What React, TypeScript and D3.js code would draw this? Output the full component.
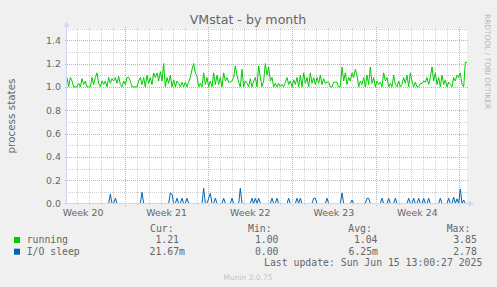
import React from "react";
import * as d3 from "d3";

// ---------- data ----------
const TITLE = "VMstat - by month";
const Y_LABEL = "process states";
const END_TIME = Date.UTC(2025, 5, 15, 15, 41);
const SPAN_DAYS = 33.5;
const START_TIME = END_TIME - SPAN_DAYS * 86400000;

const running = [
  1.08, 1.0, 1.08, 1.05, 1.0, 1.0, 1.0, 1.03, 1.0, 1.07,
  1.02, 1.05, 1.0, 1.0, 1.0, 1.08, 1.02, 1.08, 1.12, 1.03,
  1.0, 1.05, 1.02, 1.05, 1.0, 1.08, 1.03, 1.07, 1.05, 1.08,
  1.03, 1.09, 1.02, 1.0, 1.05, 1.02, 1.08, 1.08, 1.05, 1.0,
  1.0, 1.0, 1.0, 1.05, 1.08, 1.02, 1.08, 1.0, 1.1, 1.03,
  1.08, 1.02, 1.12, 1.08, 1.12, 1.05, 1.13, 1.05, 1.2, 1.0,
  1.08, 1.03, 1.1, 1.0, 1.06, 1.0, 1.05, 1.03, 1.0, 1.04,
  1.0, 1.04, 1.0, 1.04, 1.08, 1.15, 1.2, 1.12, 1.09, 1.0,
  1.03, 1.0, 1.12, 1.02, 1.08, 1.0, 1.05, 1.0, 1.12, 1.02,
  1.1, 1.02, 1.08, 1.0, 1.12, 1.05, 1.08, 1.04, 1.04, 1.05,
  1.08, 1.18, 1.1, 1.04, 1.0, 1.15, 1.0, 1.05, 1.03, 1.0,
  1.07, 1.0, 1.05, 1.08, 1.0, 1.18, 1.08,
  1.0, 1.05, 1.2, 1.1, 1.17, 1.05, 1.08, 1.0, 1.03, 1.0,
  1.03, 1.0, 1.02, 1.0, 1.04, 1.08, 1.02, 1.05, 1.0, 1.06,
  1.02, 1.08, 1.0, 1.1, 1.0, 1.12, 1.03, 1.08, 1.0, 1.12,
  1.03, 1.08, 1.02, 1.08, 1.03, 1.1, 1.02, 1.07, 1.03, 1.04,
  1.04, 1.0, 1.0, 1.04, 1.04, 1.04, 1.0, 1.0, 1.17, 1.05,
  1.12, 1.02, 1.08, 1.05, 1.12, 1.08, 1.15, 1.1, 1.0, 1.05,
  1.02, 1.08, 1.0, 1.1, 1.02, 1.17, 1.03, 1.08, 1.0, 1.05,
  1.02, 1.04, 1.0, 1.12, 1.05, 1.08, 1.0, 1.03, 1.0, 1.1,
  1.02, 1.0, 1.05, 1.0, 1.02, 1.08, 1.03, 1.1, 1.0, 1.12,
  1.05, 1.0, 1.04, 1.0, 1.0, 1.03, 1.03, 1.05, 1.04, 1.08,
  1.02, 1.08, 1.17, 1.05, 1.12, 1.02, 1.08, 1.0, 1.1, 1.02,
  1.06, 1.0, 1.04, 1.02, 1.0, 1.08, 1.05, 1.1, 1.08, 1.12,
  1.02, 1.0, 1.21, 1.21,
];

const ioSleep = [
  0, 0, 0, 0, 0, 0, 0, 0, 0, 0, 0, 0, 0, 0, 0, 0, 0, 0, 0, 0,
  0, 0, 0, 0, 0, 0, 0.08, 0, 0, 0.045, 0, 0, 0, 0, 0, 0, 0, 0, 0, 0,
  0, 0, 0, 0, 0, 0.096, 0, 0, 0, 0, 0, 0, 0, 0, 0, 0, 0, 0, 0, 0,
  0, 0, 0.09, 0.08, 0, 0, 0.045, 0, 0, 0.045, 0, 0, 0.045, 0, 0, 0, 0, 0, 0, 0,
  0, 0, 0.13, 0, 0, 0.045, 0.087, 0, 0, 0.045, 0, 0, 0, 0, 0.045, 0, 0, 0, 0, 0.045,
  0, 0, 0, 0, 0.13, 0, 0, 0, 0, 0, 0, 0.045, 0, 0.045, 0, 0.045, 0, 0, 0, 0,
  0, 0, 0, 0.045, 0, 0, 0.045, 0, 0, 0, 0, 0, 0, 0.045, 0, 0, 0, 0, 0.045, 0,
  0.045, 0, 0, 0, 0, 0, 0, 0, 0.045, 0.045, 0, 0, 0, 0, 0, 0, 0.045, 0, 0, 0,
  0, 0, 0, 0, 0, 0.09, 0, 0, 0, 0, 0, 0.03, 0, 0, 0, 0, 0, 0, 0, 0,
  0.045, 0.045, 0, 0, 0, 0, 0, 0, 0, 0.045, 0, 0, 0, 0.045, 0, 0, 0, 0.045, 0, 0,
  0, 0, 0, 0, 0, 0.045, 0, 0, 0.045, 0, 0, 0.045, 0, 0, 0.045, 0, 0, 0.045, 0, 0,
  0, 0, 0, 0, 0.045, 0, 0, 0, 0, 0.045, 0, 0, 0.055, 0, 0.04, 0, 0.125, 0, 0.03, 0,
  0,
];

const yTicks = [0, 0.2, 0.4, 0.6, 0.8, 1.0, 1.2, 1.4];
const yMinor = [0.1, 0.3, 0.5, 0.7, 0.9, 1.1, 1.3, 1.5];
const seriesNames = ["running", "I/O sleep"];
const seriesColors = ["#00CC00", "#0066B3"];
const legendHeaders = ["Cur:", "Min:", "Avg:", "Max:"];
const runningStats = ["1.21", "1.00", "1.04", "3.85"];
const ioStats = ["21.67m", "0.00", "6.25m", "2.78"];
const LAST_UPDATE = "Last update: Sun Jun 15 13:00:27 2025";
const VERSION = "Munin 2.0.75";
const WATERMARK = "RRDTOOL / TOBI OETIKER";

// ---------- layout ----------
const W = 497;
const H = 287;
const PX0 = 67;
const PX1 = 467;
const PY0 = 203.5;
const PY1 = 28.5;
const FONT = "'DejaVu Sans', sans-serif";
const MONO = "'DejaVu Sans Mono', monospace";
const TXT = "#666666";
const AXIS = "#CFD6F8";
const GRID = "#cfcfcf";
const MGRID = "#eaa0a0";

const headerX = [150, 248, 348.3, 446.7];
const valueEndX = [[179, 278.5, 377.5, 476.8], [185, 278.5, 378, 476.8]];

export default function App() {
  const x = d3.scaleUtc().domain([START_TIME, END_TIME]).range([PX0, PX1]);
  const y = d3.scaleLinear().domain([0, 1.5]).range([PY0, PY1]);
  const n = running.length;
  const tOf = (i: number) => START_TIME + (i * (END_TIME - START_TIME)) / (n - 1);

  const line = d3
    .line<number>()
    .x((_, i) => x(tOf(i)))
    .y((v) => y(v));

  const days = d3.utcDay.range(new Date(START_TIME), new Date(END_TIME));
  const sundays = d3.utcSunday.range(new Date(START_TIME), new Date(END_TIME));
  const minorDays = days.filter((d) => d.getUTCDay() !== 0);
  const labelWeeks = d3.utcSunday
    .range(d3.utcSunday.floor(new Date(START_TIME)), new Date(END_TIME))
    .filter((d) => +d <= END_TIME - 3.5 * 86400000);
  const fmtWeek = d3.utcFormat("%V");

  const cx = (v: number) => Math.round(v) + 0.5;

  return (
    <svg
      width={W}
      height={H}
      style={{ position: "absolute", left: 0, top: 0, background: "#F0F0F0" }}
      xmlns="http://www.w3.org/2000/svg"
    >
      <rect x={0} y={0} width={W} height={H} fill="#F0F0F0" />
      <rect x={PX0} y={PY1} width={PX1 - PX0} height={PY0 - PY1} fill="#FFFFFF" />

      {/* minor grid */}
      <g stroke={GRID} strokeWidth={1} strokeDasharray="1,1" shapeRendering="crispEdges">
        {yMinor.map((v) => (
          <line key={"hm" + v} x1={PX0 - 1} x2={PX1 + 1} y1={cx(y(v))} y2={cx(y(v))} />
        ))}
        {minorDays.map((d) => (
          <line key={"vm" + +d} x1={cx(x(d))} x2={cx(x(d))} y1={PY0 + 1} y2={PY1 - 1} />
        ))}
      </g>
      {/* major grid */}
      <g stroke={MGRID} strokeWidth={1} strokeDasharray="1,1" shapeRendering="crispEdges">
        {yTicks.slice(1).map((v) => (
          <line key={"hM" + v} x1={PX0 - 2} x2={PX1 + 2} y1={cx(y(v))} y2={cx(y(v))} />
        ))}
        {sundays.map((d) => (
          <line key={"vM" + +d} x1={cx(x(d))} x2={cx(x(d))} y1={PY0 + 2} y2={PY1 - 2} />
        ))}
      </g>

      {/* series */}
      <path d={line(running) || ""} fill="none" stroke={seriesColors[0]} strokeWidth={1} />
      <path d={line(ioSleep) || ""} fill="none" stroke={seriesColors[1]} strokeWidth={1} />

      {/* axes */}
      <g shapeRendering="crispEdges">
        <line x1={PX0 - 0.5} x2={PX0 - 0.5} y1={PY0 + 1} y2={PY1 - 2} stroke={AXIS} />
        <line x1={PX0 - 3} x2={PX1 + 2} y1={PY0} y2={PY0} stroke={AXIS} />
      </g>
      <path
        d={`M${PX0 - 3.5},${PY1 - 1.5} L${PX0 - 0.5},${PY1 - 7} L${PX0 + 2.5},${PY1 - 1.5} Z`}
        fill={AXIS}
      />
      <path
        d={`M${PX1 + 1.5},${PY0 - 3} L${PX1 + 7},${PY0} L${PX1 + 1.5},${PY0 + 3} Z`}
        fill={AXIS}
      />

      {/* y tick labels */}
      <g fontFamily={FONT} fontSize={9.4} fill={TXT} textAnchor="end">
        {yTicks.map((v) => (
          <text key={"yl" + v} x={61} y={y(v) + 3.4}>
            {v.toFixed(1)}
          </text>
        ))}
      </g>

      {/* x labels */}
      <g fontFamily={FONT} fontSize={9.4} fill={TXT} textAnchor="middle">
        {labelWeeks.map((d) => (
          <text key={"xl" + +d} x={x(+d + 3.5 * 86400000)} y={215.7}>
            {"Week " + fmtWeek(new Date(+d + 3.5 * 86400000))}
          </text>
        ))}
      </g>

      {/* title */}
      <text x={248} y={24} fontFamily={FONT} fontSize={12.6} fill={TXT} textAnchor="middle">
        {TITLE}
      </text>

      {/* y axis label */}
      <text
        transform={`translate(15,${(PY0 + PY1) / 2}) rotate(-90)`}
        fontFamily={FONT}
        fontSize={10.4}
        fill={TXT}
        textAnchor="middle"
      >
        {Y_LABEL}
      </text>

      {/* watermark */}
      <text
        transform="translate(485,14) rotate(90)"
        fontFamily={FONT}
        fontSize={7.4}
        fill="#b4b4b4"
      >
        {WATERMARK}
      </text>

      {/* legend */}
      <g fontFamily={MONO} fontSize={9.8} fill={TXT}>
        {legendHeaders.map((h, i) => (
          <text key={"lh" + h} x={headerX[i]} y={231.5}>
            {h}
          </text>
        ))}
        {[runningStats, ioStats].map((row, r) => (
          <g key={"row" + r}>
            <rect
              x={14}
              y={237 + r * 11.7}
              width={6}
              height={6}
              fill={seriesColors[r]}
            />
            <text x={26.7} y={243 + r * 11.5}>
              {seriesNames[r]}
            </text>
            {row.map((s, i) => (
              <text
                key={"v" + i}
                x={valueEndX[r][i]}
                y={243 + r * 11.5}
                textAnchor="end"
              >
                {s}
              </text>
            ))}
          </g>
        ))}
        <text x={482.3} y={266} textAnchor="end">
          {LAST_UPDATE}
        </text>
      </g>
      <text x={248} y={279.5} fontFamily={FONT} fontSize={7.5} fill="#c4c4c4" textAnchor="middle">
        {VERSION}
      </text>
    </svg>
  );
}
